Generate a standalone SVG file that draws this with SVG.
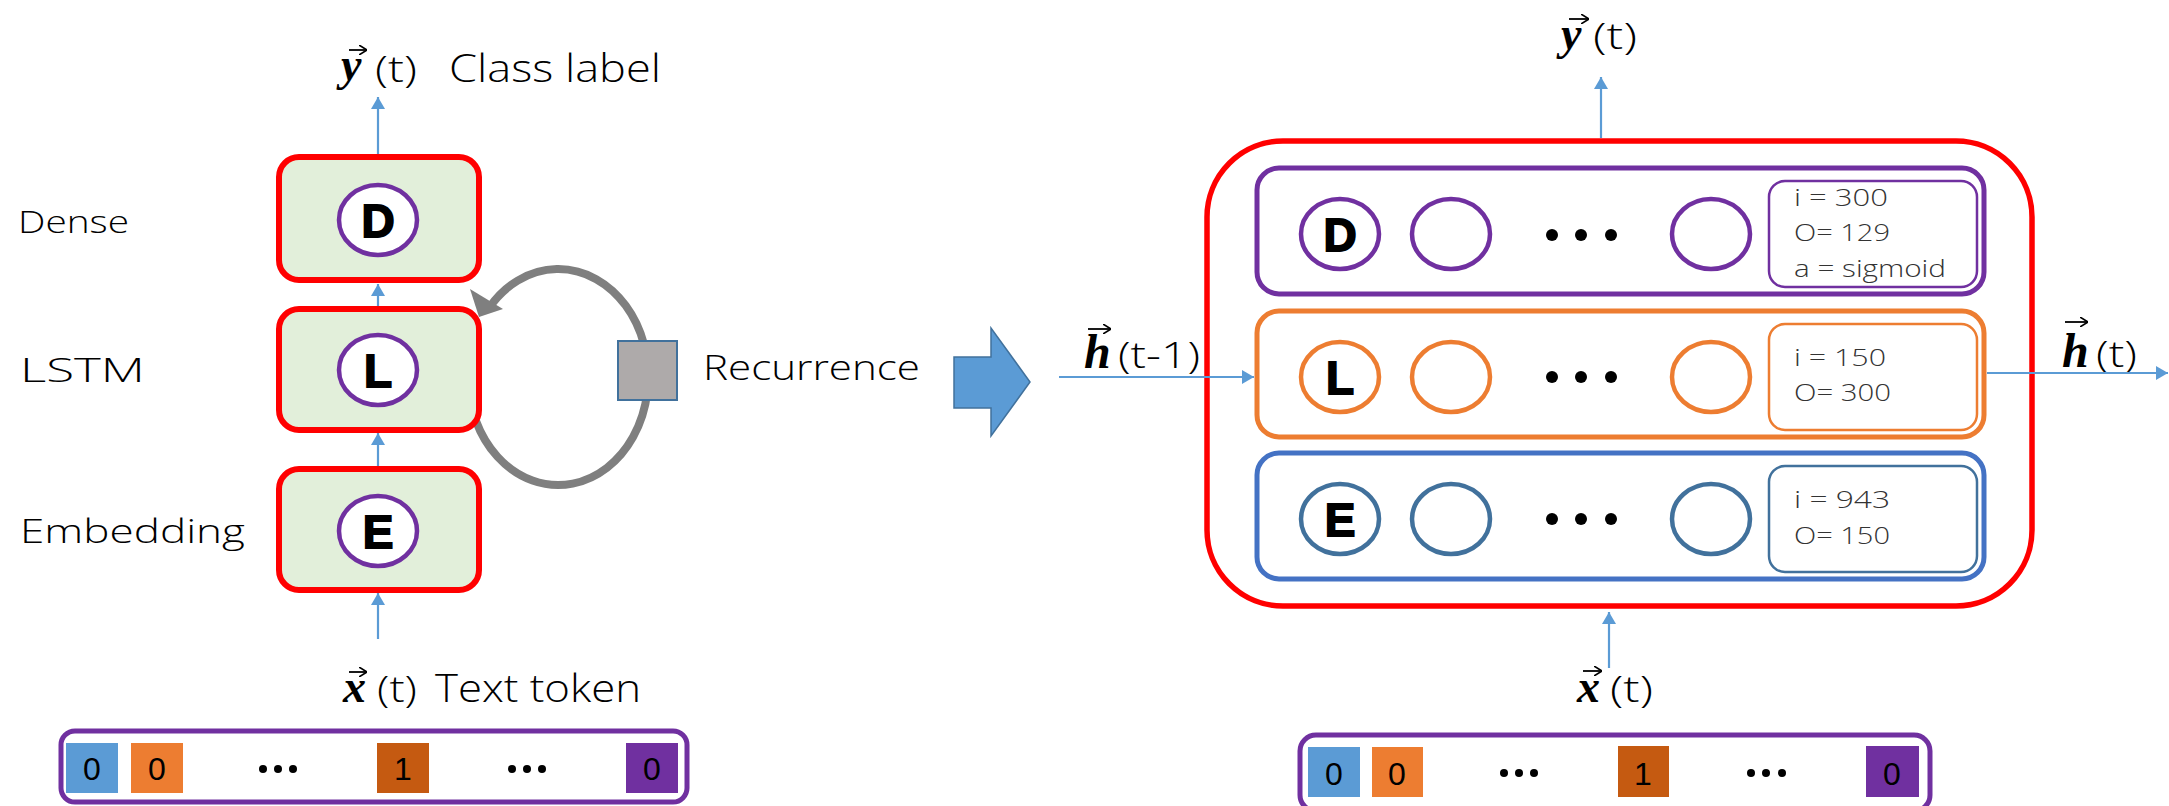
<svg xmlns="http://www.w3.org/2000/svg" width="2169" height="806" viewBox="0 0 2169 806">
<defs>
<marker id="ah" viewBox="0 0 12 14" refX="12" refY="7" markerWidth="12" markerHeight="14" markerUnits="userSpaceOnUse" orient="auto">
<path d="M0,0 L12,7 L0,14 z" fill="#5B9BD5"/>
</marker>
<marker id="vh" viewBox="0 0 8 10" refX="8" refY="5" markerWidth="8" markerHeight="10" markerUnits="userSpaceOnUse" orient="auto">
<path d="M0,0 L8,5 L0,10" fill="none" stroke="#000" stroke-width="1.6"/>
</marker>
</defs>
<style>
.hand{font-family:"Open Sans","Liberation Sans",sans-serif;font-weight:300;fill:#000}
.info{font-family:"Open Sans","Liberation Sans",sans-serif;font-weight:300;fill:#333;font-size:23px}
.math{font-family:"Liberation Serif","DejaVu Serif",serif;font-style:italic;font-weight:bold;fill:#000}
.vecar{stroke:#000;stroke-width:1.8;fill:none;marker-end:url(#vh)}
.let{font-family:"Liberation Sans",Arial,sans-serif;font-weight:bold;font-size:46px;fill:#000;stroke:#000;stroke-width:1.8;text-anchor:middle}
.lbox{fill:#E2EFDA;stroke:#FF0000;stroke-width:6}
.lcirc{fill:#fff;stroke:#7030A0;stroke-width:4.5}
.conn{stroke:#5B9BD5;stroke-width:2.2;fill:none;marker-end:url(#ah)}
.num{font-family:"Liberation Sans",Arial,sans-serif;font-size:32px;text-anchor:middle;fill:#000}
.vbox{fill:#fff;stroke:#7030A0;stroke-width:5}
.layer{fill:#fff;stroke-width:5}
.ibox{fill:#fff;stroke-width:2.5}
.neu{fill:#fff;stroke-width:4.5}
.dot{fill:#000}
</style>

<!-- recurrence loop -->
<g id="recurrence">
<path d="M476,421 A90,108 0 1 0 489,308" fill="none" stroke="#7F7F7F" stroke-width="8"/>
<polygon points="470,289 503,309 479,317" fill="#7F7F7F"/>
<rect x="618" y="341" width="59" height="59" fill="#AEAAAA" stroke="#41719C" stroke-width="2"/>
<text class="hand" x="703" y="380" font-size="34" textLength="217" lengthAdjust="spacingAndGlyphs">Recurrence</text>
</g>

<!-- left layer labels -->
<g id="labels-left">
<text class="hand" x="18" y="233" font-size="32" textLength="111" lengthAdjust="spacingAndGlyphs">Dense</text>
<text class="hand" x="20" y="382" font-size="33" textLength="125" lengthAdjust="spacingAndGlyphs">LSTM</text>
<text class="hand" x="20" y="543" font-size="33" textLength="225" lengthAdjust="spacingAndGlyphs">Embedding</text>
</g>

<g id="node-D">
<rect class="lbox" x="279" y="157" width="200" height="123" rx="20"/>
<ellipse class="lcirc" cx="378" cy="220" rx="39" ry="35"/>
<text class="let" x="378" y="237">D</text>
</g>
<g id="node-L">
<rect class="lbox" x="279" y="309" width="200" height="121" rx="20"/>
<ellipse class="lcirc" cx="378" cy="370" rx="39" ry="35"/>
<text class="let" x="378" y="387">L</text>
</g>
<g id="node-E">
<rect class="lbox" x="279" y="469" width="200" height="121" rx="20"/>
<ellipse class="lcirc" cx="378" cy="531" rx="39" ry="35"/>
<text class="let" x="378" y="548">E</text>
</g>

<g id="label-y-left">
<path class="vecar" d="M349,50 H367"/>
<text class="math" x="341" y="80" font-size="46">y</text>
<text class="hand" x="375" y="82" font-size="36" textLength="42" lengthAdjust="spacingAndGlyphs">(t)</text>
<text class="hand" x="449" y="82" font-size="38" textLength="212" lengthAdjust="spacingAndGlyphs">Class label</text>
</g>
<g id="label-x-left">
<path class="vecar" d="M349,672 H367"/>
<text class="math" x="343" y="702" font-size="46">x</text>
<text class="hand" x="377" y="702" font-size="36" textLength="40" lengthAdjust="spacingAndGlyphs">(t)</text>
<text class="hand" x="435" y="702" font-size="38" textLength="206" lengthAdjust="spacingAndGlyphs">Text token</text>
</g>

<g id="vector-left">
<rect class="vbox" x="61" y="731" width="626" height="71" rx="14"/>
<rect x="66" y="743" width="52" height="50" fill="#5B9BD5"/>
<rect x="131" y="743" width="52" height="50" fill="#ED7D31"/>
<rect x="377" y="743" width="52" height="50" fill="#C55A11"/>
<rect x="626" y="743" width="52" height="50" fill="#7030A0"/>
<text class="num" x="92" y="780">0</text>
<text class="num" x="157" y="780">0</text>
<text class="num" x="403" y="780">1</text>
<text class="num" x="652" y="780">0</text>
<circle class="dot" cx="263" cy="769" r="4"/><circle class="dot" cx="278" cy="769" r="4"/><circle class="dot" cx="293" cy="769" r="4"/>
<circle class="dot" cx="512" cy="769" r="4"/><circle class="dot" cx="527" cy="769" r="4"/><circle class="dot" cx="542" cy="769" r="4"/>
</g>

<!-- block arrow -->
<g id="unfold-arrow">
<polygon points="954,357 991,357 991,328 1030,382 991,436 991,408 954,408" fill="#5B9BD5" stroke="#41719C" stroke-width="1.5"/>
</g>

<!-- right side -->
<g id="cell">
<rect x="1207" y="141" width="825" height="465" rx="76" fill="none" stroke="#FF0000" stroke-width="5.5"/>
</g>

<g id="layer-D">
<rect class="layer" x="1257" y="168" width="727" height="126" rx="22" stroke="#7030A0"/>
<ellipse class="neu" cx="1340" cy="234" rx="39" ry="35" stroke="#7030A0"/>
<text class="let" x="1340" y="251">D</text>
<ellipse class="neu" cx="1451" cy="234" rx="39" ry="35" stroke="#7030A0"/>
<circle class="dot" cx="1552" cy="235" r="6"/><circle class="dot" cx="1581" cy="235" r="6"/><circle class="dot" cx="1611" cy="235" r="6"/>
<ellipse class="neu" cx="1711" cy="234" rx="39" ry="35" stroke="#7030A0"/>
<rect class="ibox" x="1769" y="181" width="208" height="106" rx="16" stroke="#7030A0"/>
<text class="info" x="1794" y="206" textLength="94" lengthAdjust="spacingAndGlyphs">i = 300</text>
<text class="info" x="1794" y="241" textLength="96" lengthAdjust="spacingAndGlyphs">O= 129</text>
<text class="info" x="1794" y="277" textLength="152" lengthAdjust="spacingAndGlyphs">a = sigmoid</text>
</g>

<g id="layer-L">
<rect class="layer" x="1257" y="311" width="727" height="126" rx="22" stroke="#ED7D31"/>
<ellipse class="neu" cx="1340" cy="377" rx="39" ry="35" stroke="#ED7D31"/>
<text class="let" x="1340" y="394">L</text>
<ellipse class="neu" cx="1451" cy="377" rx="39" ry="35" stroke="#ED7D31"/>
<circle class="dot" cx="1552" cy="377" r="6"/><circle class="dot" cx="1581" cy="377" r="6"/><circle class="dot" cx="1611" cy="377" r="6"/>
<ellipse class="neu" cx="1711" cy="377" rx="39" ry="35" stroke="#ED7D31"/>
<rect class="ibox" x="1769" y="324" width="208" height="106" rx="16" stroke="#ED7D31"/>
<text class="info" x="1794" y="366" textLength="92" lengthAdjust="spacingAndGlyphs">i = 150</text>
<text class="info" x="1794" y="401" textLength="97" lengthAdjust="spacingAndGlyphs">O= 300</text>
</g>

<g id="layer-E">
<rect class="layer" x="1257" y="453" width="727" height="126" rx="22" stroke="#4472C4"/>
<ellipse class="neu" cx="1340" cy="519" rx="39" ry="35" stroke="#41719C"/>
<text class="let" x="1340" y="536">E</text>
<ellipse class="neu" cx="1451" cy="519" rx="39" ry="35" stroke="#41719C"/>
<circle class="dot" cx="1552" cy="519" r="6"/><circle class="dot" cx="1581" cy="519" r="6"/><circle class="dot" cx="1611" cy="519" r="6"/>
<ellipse class="neu" cx="1711" cy="519" rx="39" ry="35" stroke="#41719C"/>
<rect class="ibox" x="1769" y="466" width="208" height="106" rx="16" stroke="#41719C"/>
<text class="info" x="1794" y="508" textLength="96" lengthAdjust="spacingAndGlyphs">i = 943</text>
<text class="info" x="1794" y="544" textLength="96" lengthAdjust="spacingAndGlyphs">O= 150</text>
</g>

<g id="label-y-right">
<path class="vecar" d="M1569,19 H1589"/>
<text class="math" x="1561" y="49" font-size="46">y</text>
<text class="hand" x="1593" y="49" font-size="36" textLength="44" lengthAdjust="spacingAndGlyphs">(t)</text>
</g>
<g id="label-x-right">
<path class="vecar" d="M1583,671 H1602"/>
<text class="math" x="1577" y="702" font-size="46">x</text>
<text class="hand" x="1610" y="702" font-size="36" textLength="43" lengthAdjust="spacingAndGlyphs">(t)</text>
</g>
<g id="label-h-prev">
<path class="vecar" d="M1088,329 H1111"/>
<text class="math" x="1084" y="368" font-size="48">h</text>
<text class="hand" x="1118" y="368" font-size="36" textLength="82" lengthAdjust="spacingAndGlyphs">(t-1)</text>
</g>
<g id="label-h-next">
<path class="vecar" d="M2065,322 H2088"/>
<text class="math" x="2062" y="367" font-size="48">h</text>
<text class="hand" x="2096" y="367" font-size="36" textLength="41" lengthAdjust="spacingAndGlyphs">(t)</text>
</g>

<g id="vector-right">
<rect class="vbox" x="1300" y="735" width="630" height="76" rx="16"/>
<rect x="1308" y="747" width="52" height="50" fill="#5B9BD5"/>
<rect x="1372" y="747" width="51" height="50" fill="#ED7D31"/>
<rect x="1618" y="746" width="51" height="51" fill="#C55A11"/>
<rect x="1866" y="746" width="53" height="51" fill="#7030A0"/>
<text class="num" x="1334" y="785">0</text>
<text class="num" x="1397" y="785">0</text>
<text class="num" x="1643" y="785">1</text>
<text class="num" x="1892" y="785">0</text>
<circle class="dot" cx="1504" cy="773" r="4"/><circle class="dot" cx="1519" cy="773" r="4"/><circle class="dot" cx="1534" cy="773" r="4"/>
<circle class="dot" cx="1751" cy="773" r="4"/><circle class="dot" cx="1766" cy="773" r="4"/><circle class="dot" cx="1782" cy="773" r="4"/>
</g>

<g id="connectors">
<line class="conn" x1="378" y1="154" x2="378" y2="97"/>
<line class="conn" x1="378" y1="306" x2="378" y2="284"/>
<line class="conn" x1="378" y1="466" x2="378" y2="433"/>
<line class="conn" x1="378" y1="639" x2="378" y2="593"/>
<line class="conn" x1="1601" y1="138" x2="1601" y2="77"/>
<line class="conn" x1="1609" y1="668" x2="1609" y2="612"/>
<line class="conn" x1="1059" y1="377" x2="1254" y2="377"/>
<line class="conn" x1="1987" y1="373" x2="2168" y2="373"/>
</g>
</svg>
